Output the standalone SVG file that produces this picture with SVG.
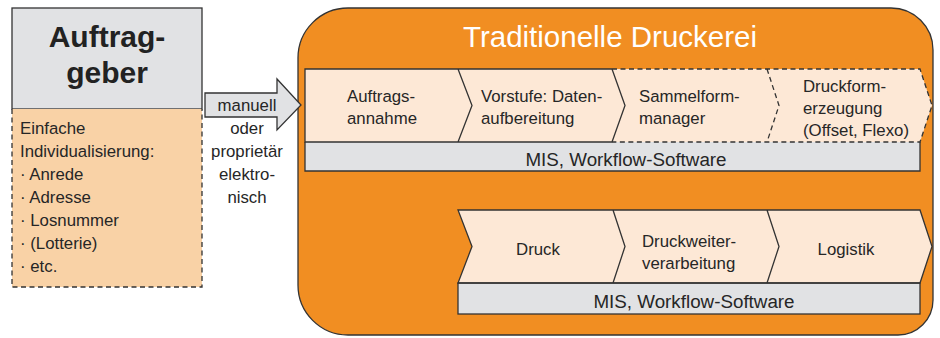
<svg xmlns="http://www.w3.org/2000/svg" width="940" height="338" viewBox="0 0 940 338">
<style>
text{font-family:"Liberation Sans",Arial,sans-serif;fill:#262626}
.s{font-size:16.8px}
.m{font-size:18.8px}
.ln{fill:none;stroke:#333;stroke-width:1.3;stroke-linejoin:miter}
.d{stroke-dasharray:5 3.5}
.pe{fill:#fde8d6}
.gr{fill:#e1e2e4}
</style>
<rect width="940" height="338" fill="#fff"/>
<g id="auftraggeber">
<rect x="12" y="8" width="190" height="101" class="gr" stroke="#333" stroke-width="1.3"/>
<rect x="12" y="109" width="190" height="178" fill="#f9d2a6"/>
<path d="M12,109 V287 H202 V109" class="ln d"/>
<text x="107" y="47" text-anchor="middle" font-size="30" font-weight="bold" style="fill:#222">Auftrag-</text>
<text x="107" y="83" text-anchor="middle" font-size="30" font-weight="bold" style="fill:#222">geber</text>
<text class="s" x="20"><tspan x="20" y="134">Einfache</tspan><tspan x="20" y="157">Individualisierung:</tspan><tspan x="20" y="180">· Anrede</tspan><tspan x="20" y="203">· Adresse</tspan><tspan x="20" y="226">· Losnummer</tspan><tspan x="20" y="249">· (Lotterie)</tspan><tspan x="20" y="272">· etc.</tspan></text>
</g>
<g id="druckerei">
<path d="M348,8 H891 A42,42 0 0 1 933,50 V300 A35,35 0 0 1 898,335 H348 A50,50 0 0 1 298,285 V58 A50,50 0 0 1 348,8 Z" fill="#f18e22" stroke="#333" stroke-width="1.3"/>
<text x="610" y="47" text-anchor="middle" font-size="29.5" style="fill:#fff">Traditionelle Druckerei</text>
</g>
<g id="row1">
<polygon class="pe" points="305,69 920,69 932,105.5 920,142 305,142"/>
<path d="M305,142 V171 H920 V142" class="gr" stroke="#333" stroke-width="1.3"/>
<path d="M612,69 H305 V142 H612 M458,69 L472,105.5 L458,142 M612,69 L625,105.5 L612,142" class="ln"/>
<path d="M612,69 H920 L932,105.5 L920,142 H612 M767,69 L779,105.5 L767,142" class="ln d"/>
<text class="s"><tspan x="347" y="102">Auftrags-</tspan><tspan x="347" y="124">annahme</tspan></text>
<text class="s"><tspan x="481" y="102">Vorstufe: Daten-</tspan><tspan x="481" y="124">aufbereitung</tspan></text>
<text class="s"><tspan x="639" y="102">Sammelform-</tspan><tspan x="639" y="124">manager</tspan></text>
<text class="s"><tspan x="803" y="92">Druckform-</tspan><tspan x="803" y="114">erzeugung</tspan><tspan x="803" y="136">(Offset, Flexo)</tspan></text>
<text class="m" x="626" y="166" text-anchor="middle">MIS, Workflow-Software</text>
</g>
<g id="row2">
<polygon class="pe" points="458,210 920,210 932,246.5 920,283 458,283 472,246.5"/>
<rect x="458" y="283" width="462" height="31" class="gr" stroke="#333" stroke-width="1.3"/>
<path d="M458,210 H920 L932,246.5 L920,283 H458 L472,246.5 Z M613,210 L625,246.5 L613,283 M767,210 L779,246.5 L767,283" class="ln"/>
<text class="s" x="538" y="255" text-anchor="middle">Druck</text>
<text class="s"><tspan x="642" y="247">Druckweiter-</tspan><tspan x="642" y="269">verarbeitung</tspan></text>
<text class="s" x="846" y="255" text-anchor="middle">Logistik</text>
<text class="m" x="694" y="308" text-anchor="middle">MIS, Workflow-Software</text>
</g>
<g id="connectors">
<polygon points="205,93 277,93 277,79 301,105 277,130 277,117 205,117" fill="#e1e2e4" stroke="#333" stroke-width="1.3" stroke-linejoin="miter"/>
<text class="s" text-anchor="middle"><tspan x="247" y="111">manuell</tspan><tspan x="247" y="134">oder</tspan><tspan x="247" y="157">proprietär</tspan><tspan x="247" y="180">elektro-</tspan><tspan x="247" y="203">nisch</tspan></text>
</g>
</svg>
